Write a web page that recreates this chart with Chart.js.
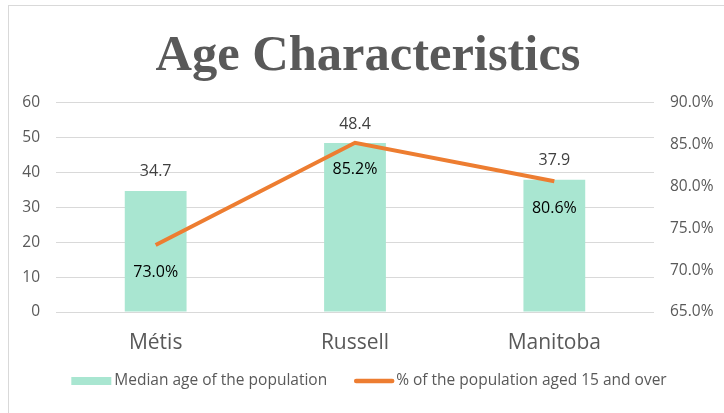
<!DOCTYPE html>
<html>
<head>
<meta charset="utf-8">
<script src="https://cdn.jsdelivr.net/npm/chart.js@4/dist/chart.umd.min.js"></script>
<style>
  body { margin: 0; background: #fff; }
  #wrap { position: relative; width: 724px; height: 413px; }
  #frame { position: absolute; left: 8px; top: 5px; width: 730px; height: 430px; border: 1px solid #d9d9d9; box-sizing: border-box; }
  canvas { position: absolute; left: 0; top: 0; }
</style>
</head>
<body>
<div id="wrap">
  <div id="frame"></div>
  <canvas id="chart" width="724" height="413"></canvas>
</div>
<script>
const categories = ["Métis", "Russell", "Manitoba"];
const medianAge = [34.7, 48.4, 37.9];
const aged15Plus = [73.0, 85.2, 80.6];

const textGray = "#595959";
const uiFont = "'Open Sans'";

const valueLabels = {
    id: "valueLabels",
    afterDatasetsDraw(chart) {
        const ctx = chart.ctx;
        ctx.save();
        ctx.textAlign = "center";
        ctx.textBaseline = "middle";
        ctx.font = "16px " + uiFont;
        chart.getDatasetMeta(0).data.forEach((bar, i) => {
            ctx.fillStyle = "#404040";
            ctx.fillText(medianAge[i].toFixed(1), bar.x, bar.y - 19);
        });
        chart.getDatasetMeta(1).data.forEach((pt, i) => {
            ctx.fillStyle = "#000";
            ctx.fillText(aged15Plus[i].toFixed(1) + "%", pt.x, pt.y + 27);
        });
        ctx.restore();
    }
};

// legend drawn by hand so the spacing looks like the office one
const bottomLegend = {
    id: "bottomLegend",
    afterDraw(chart) {
        const ctx = chart.ctx;
        const ds = chart.data.datasets;
        const y = 381;
        ctx.save();
        ctx.font = "15.5px " + uiFont;
        ctx.textBaseline = "middle";
        const w0 = ctx.measureText(ds[0].label).width;
        const w1 = ctx.measureText(ds[1].label).width;
        const total = 40 + 3 + w0 + 27 + 40 + 2 + w1;
        let x = (chart.width - total) / 2 + 7;
        ctx.fillStyle = ds[0].backgroundColor;
        ctx.fillRect(x, y - 4, 40, 8);
        x += 43;
        ctx.fillStyle = textGray;
        ctx.fillText(ds[0].label, x, y);
        x += w0 + 27;
        ctx.strokeStyle = ds[1].borderColor;
        ctx.lineWidth = 4.5;
        ctx.lineCap = "round";
        ctx.beginPath();
        ctx.moveTo(x + 2, y);
        ctx.lineTo(x + 38, y);
        ctx.stroke();
        x += 42;
        ctx.fillText(ds[1].label, x, y);
        ctx.restore();
    }
};

new Chart(document.querySelector("#chart"), {
    type: "bar",
    data: {
        labels: categories,
        datasets: [
            {
                label: "Median age of the population",
                data: medianAge,
                backgroundColor: "#a9e6d1",
                categoryPercentage: 1,
                barPercentage: 0.31,
                yAxisID: "y",
                order: 2
            },
            {
                type: "line",
                label: "% of the population aged 15 and over",
                data: aged15Plus,
                borderColor: "#ed7d31",
                backgroundColor: "#ed7d31",
                borderWidth: 4,
                pointRadius: 0,
                tension: 0,
                yAxisID: "y1",
                order: 1
            }
        ]
    },
    options: {
        responsive: false,
        animation: false,
        layout: { padding: { left: 12, right: 0, top: 0, bottom: 49 } },
        plugins: {
            title: {
                display: true,
                text: "Age Characteristics",
                color: textGray,
                font: { family: "'Liberation Serif'", size: 50.5, weight: "bold" },
                padding: { top: 27, bottom: 15 }
            },
            legend: { display: false },
            tooltip: { enabled: false }
        },
        scales: {
            x: {
                grid: { display: false, drawTicks: false },
                border: { display: false },
                ticks: { color: textGray, font: { family: uiFont, size: 21 }, padding: 18 },
                afterFit(scale) { scale.height = 52; }
            },
            y: {
                position: "left",
                min: 0,
                max: 60,
                ticks: { stepSize: 10, color: textGray, font: { family: uiFont, size: 15.5 }, padding: 16 },
                grid: { color: "#d9d9d9", drawTicks: false },
                border: { display: false },
                afterFit(scale) { scale.width = 44; }
            },
            y1: {
                position: "right",
                min: 65,
                max: 90,
                ticks: {
                    stepSize: 5,
                    color: textGray,
                    font: { family: uiFont, size: 15.5 },
                    padding: 16,
                    callback: v => v.toFixed(1) + "%"
                },
                grid: { display: false, drawTicks: false },
                border: { display: false },
                afterFit(scale) { scale.width = 70; }
            }
        }
    },
    plugins: [valueLabels, bottomLegend]
});
</script>
</body>
</html>
